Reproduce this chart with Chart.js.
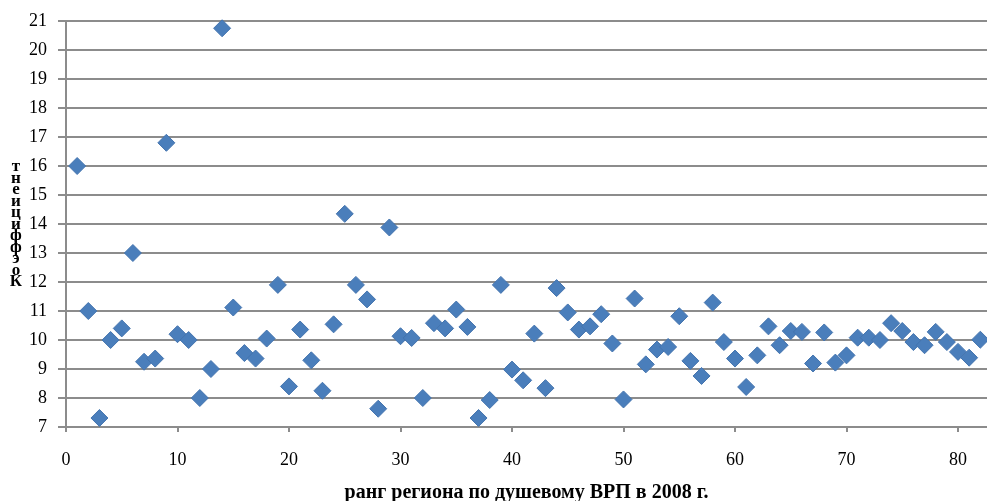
<!DOCTYPE html>
<html>
<head>
<meta charset="utf-8">
<script src="https://cdn.jsdelivr.net/npm/chart.js@4/dist/chart.umd.min.js"></script>
<style>
  html, body { margin: 0; padding: 0; background: #fff; overflow: hidden; }
  #wrap { width: 987px; height: 501px; position: relative; }
  canvas { display: block; }
</style>
</head>
<body>
<div id="wrap"><canvas id="c"></canvas></div>
<script>
const ranks = [];
for (let i = 1; i <= 82; i++) ranks.push(i);
const coefficients = [
  16.0, 11.0, 7.31, 10.0, 10.4, 13.0, 9.25, 9.36, 16.8, 10.2,
  10.0, 8.0, 9.0, 20.75, 11.12, 9.55, 9.36, 10.05, 11.9, 8.4,
  10.36, 9.3, 8.25, 10.54, 14.35, 11.9, 11.4, 7.63, 13.88, 10.13,
  10.07, 8.0, 10.58, 10.4, 11.05, 10.45, 7.31, 7.93, 11.9, 8.98,
  8.61, 10.22, 8.34, 11.79, 10.95, 10.36, 10.47, 10.89, 9.88, 7.95,
  11.43, 9.16, 9.67, 9.76, 10.82, 9.28, 8.76, 11.29, 9.93, 9.36,
  8.38, 9.47, 10.47, 9.82, 10.31, 10.28, 9.19, 10.26, 9.22, 9.47,
  10.08, 10.08, 10.0, 10.58, 10.31, 9.93, 9.82, 10.28, 9.93, 9.59,
  9.39, 10.01
];
const xTickValues = [0, 10, 20, 30, 40, 50, 60, 70, 80];
const xTitle = 'ранг региона по душевому ВРП в 2008 г.';
const yTitle = 'Коэффициент';

const points = ranks.map((r, i) => ({ x: r, y: coefficients[i] }));

const yTitlePlugin = {
  id: 'yTitleStack',
  afterDraw(chart) {
    const ctx = chart.ctx;
    const letters = Array.from(yTitle).reverse();
    ctx.save();
    ctx.font = 'bold 17px "Liberation Serif"';
    ctx.fillStyle = '#000';
    ctx.textAlign = 'center';
    ctx.textBaseline = 'alphabetic';
    const top = 171, bottom = 286;
    const step = (bottom - top) / (letters.length - 1);
    letters.forEach((ch, i) => ctx.fillText(ch, 16, top + i * step));
    ctx.restore();
  }
};

new Chart(document.getElementById('c'), {
  type: 'scatter',
  data: {
    datasets: [{
      data: points,
      pointStyle: 'rectRot',
      pointRadius: 8.5,
      pointHoverRadius: 8.5,
      backgroundColor: '#4A7EBB',
      borderColor: '#4474AE',
      borderWidth: 1,
      clip: false
    }]
  },
  options: {
    responsive: true,
    maintainAspectRatio: false,
    animation: false,
    devicePixelRatio: 1,
    layout: { autoPadding: false, padding: { top: 21, right: 0, left: 0, bottom: 0 } },
    plugins: { legend: { display: false }, tooltip: { enabled: false } },
    scales: {
      x: {
        type: 'linear',
        min: 0,
        max: 82.6,
        afterBuildTicks(axis) { axis.ticks = xTickValues.map(v => ({ value: v })); },
        afterFit(axis) { axis.height = 74; axis.paddingRight = 0; axis.paddingLeft = 0; },
        grid: { display: true, drawOnChartArea: false, drawTicks: true, tickLength: 5, color: '#8C8C8C', lineWidth: 2 },
        border: { display: false },
        ticks: { color: '#000', font: { family: '"Liberation Serif"', size: 18 }, padding: 17, maxRotation: 0 },
        title: { display: true, text: xTitle, color: '#000', font: { family: '"Liberation Serif"', size: 20, weight: 'bold' }, padding: { top: 8, bottom: -4 } }
      },
      y: {
        min: 7,
        max: 21,
        afterFit(axis) { axis.width = 66; axis.paddingTop = 0; axis.paddingBottom = 0; },
        ticks: { stepSize: 1, color: '#000', font: { family: '"Liberation Serif"', size: 18 }, padding: 11 },
        grid: { color: '#8C8C8C', lineWidth: 2, tickLength: 8 },
        border: { display: true, color: '#8C8C8C', width: 2 }
      }
    }
  },
  plugins: [yTitlePlugin]
});
</script>
</body>
</html>
